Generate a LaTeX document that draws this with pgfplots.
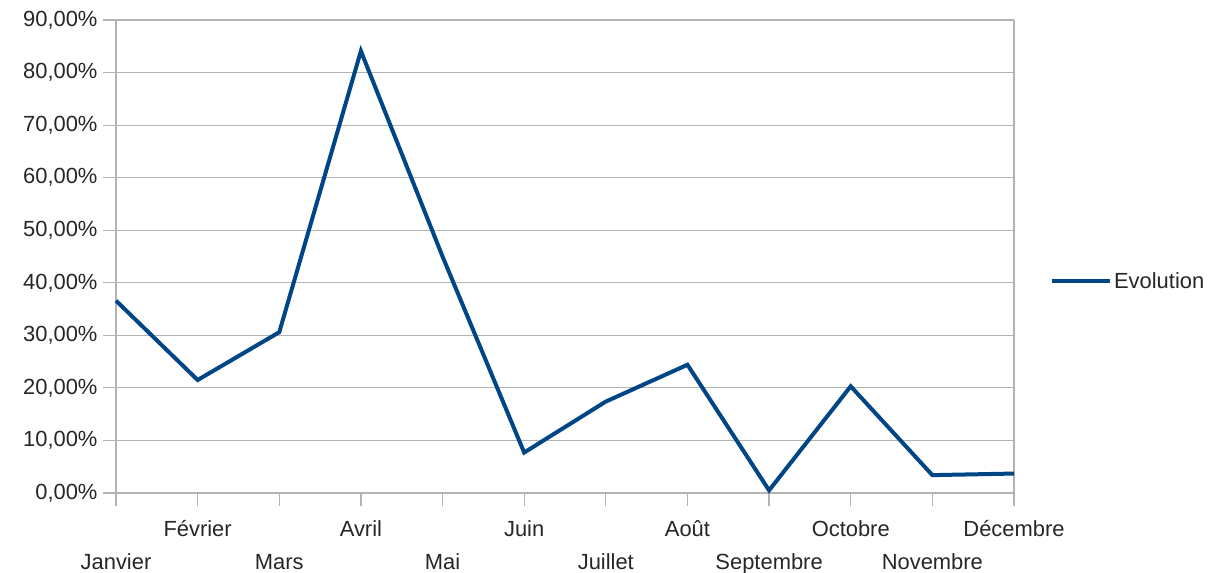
\documentclass[border=0pt]{standalone}
\usepackage{pgfplots}
\pgfplotsset{compat=1.18}
\usepackage{fontspec}
\setmainfont{Liberation Sans}
\definecolor{serie}{HTML}{004586}
\definecolor{gridc}{HTML}{B3B3B3}
\newcommand{\up}[1]{\rule{0pt}{16bp}#1}
\newcommand{\dn}[1]{\rule{0pt}{16bp}\\#1}
\begin{document}
\begin{tikzpicture}[x=1bp,y=1bp]
\path[use as bounding box] (-116bp,-80bp) rectangle (1107bp,493bp);
\begin{axis}[
  scale only axis,
  width=898bp, height=473bp,
  xmin=0, xmax=11, ymin=0, ymax=90,
  xtick={0,...,11},
  xticklabels={{\dn{Janvier}},{\up{Février}},{\dn{Mars}},{\up{Avril}},{\dn{Mai}},{\up{Juin}},{\dn{Juillet}},{\up{Août}},{\dn{Septembre}},{\up{Octobre}},{\dn{Novembre}},{\up{Décembre}}},
  ytick={0,10,...,90},
  yticklabels={{0,00\%},{10,00\%},{20,00\%},{30,00\%},{40,00\%},{50,00\%},{60,00\%},{70,00\%},{80,00\%},{90,00\%}},
  ymajorgrids,
  major grid style={gridc, line width=1.2bp},
  axis line style={gridc, line width=1.2bp},
  axis x line*=bottom,
  axis y line*=left,
  tick align=outside,
  major tick length=13bp,
  tick style={gridc, line width=1.2bp},
  xticklabel style={font=\fontsize{22}{33}\selectfont, align=center, text=black!85, inner sep=1bp, yshift=-13bp},
  yticklabel style={font=\fontsize{22}{26}\selectfont, text=black!85, xshift=-2bp},
  legend style={at={(1.04,0.448)}, anchor=west, draw=none, fill=none, font=\fontsize{22}{26}\selectfont, text=black!85, inner sep=0pt},
  legend image code/.code={\draw[#1] (0bp,0bp) -- (58bp,0bp);},
  clip=false,
]
\draw[gridc, line width=1.2bp] (axis cs:11,0) -- (axis cs:11,90);
\addplot[serie, line width=4bp, line join=miter] coordinates {
(0,36.6) (1,21.5) (2,30.6) (3,84.1) (4,45.0) (5,7.7) (6,17.4) (7,24.4) (8,0.5) (9,20.3) (10,3.4) (11,3.7)
};
\addlegendentry{Evolution}
\end{axis}
\end{tikzpicture}
\end{document}
